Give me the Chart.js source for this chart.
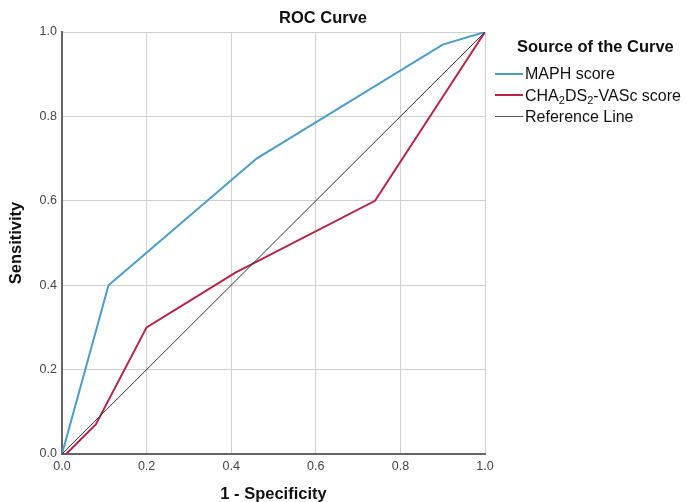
<!DOCTYPE html>
<html>
<head>
<meta charset="utf-8">
<script src="https://cdn.jsdelivr.net/npm/chart.js@4.4.1/dist/chart.umd.min.js"></script>
<style>
  html, body { margin: 0; padding: 0; background: #fff; }
  #wrap { position: relative; width: 691px; height: 502px; overflow: hidden; }
  .txt { font-family: "Liberation Sans", Arial, sans-serif; color: #111; position: absolute; }
  #title { left: 223px; width: 200px; top: 6px; text-align: center; font-weight: bold; font-size: 16.5px; line-height: 22px; }
  #legend { left: 495px; top: 35px; }
  #legend .title { font-weight: bold; font-size: 16.5px; margin-left: 22px; height: 28px; line-height: 22px; white-space: nowrap; }
  #legend .item { font-size: 16px; height: 21.5px; line-height: 21.5px; white-space: nowrap; }
  #legend .swatch { display: inline-block; width: 28px; vertical-align: middle; margin-right: 2px; position: relative; top: -1px; }
  #legend sub { font-size: 11px; vertical-align: -3px; line-height: 0; }
</style>
</head>
<body>
<div id="wrap">
  <canvas id="roc-chart" width="691" height="502"></canvas>
  <div id="title" class="txt">ROC Curve</div>
  <div id="legend" class="txt">
    <div class="title">Source of the Curve</div>
    <div class="item"><span class="swatch" style="border-top:2px solid #4a9ccb"></span>MAPH score</div>
    <div class="item"><span class="swatch" style="border-top:2px solid #b8234a"></span>CHA<sub>2</sub>DS<sub>2</sub>-VASc score</div>
    <div class="item"><span class="swatch" style="border-top:1px solid #555"></span>Reference Line</div>
  </div>
</div>
<script>
// ROC points (x = 1 - specificity, y = sensitivity)
const maphX = [0, 0.11, 0.46, 0.90, 1.0];
const maphY = [0, 0.40, 0.70, 0.97, 1.0];
const chaX = [0, 0.01, 0.08, 0.20, 0.41, 0.74, 1.0];
const chaY = [0, 0, 0.07, 0.30, 0.43, 0.60, 1.0];
const refX = [0, 1];
const refY = [0, 1];
const tickValues = [0, 0.2, 0.4, 0.6, 0.8, 1.0];

const toPoints = (xs, ys) => xs.map((x, i) => ({ x: x, y: ys[i] }));

const font = 'Liberation Sans, Arial, sans-serif';

const ctx = document.getElementById('roc-chart').getContext('2d');
new Chart(ctx, {
    type: 'scatter',
    data: {
        datasets: [
            {
                label: 'Reference Line',
                data: toPoints(refX, refY),
                showLine: true,
                borderColor: '#333333',
                borderWidth: 1,
                pointRadius: 0
            },
            {
                label: 'CHA2DS2-VASc score',
                data: toPoints(chaX, chaY),
                showLine: true,
                borderColor: '#b8234a',
                borderWidth: 2,
                pointRadius: 0
            },
            {
                label: 'MAPH score',
                data: toPoints(maphX, maphY),
                showLine: true,
                borderColor: '#4a9ccb',
                borderWidth: 2,
                pointRadius: 0
            }
        ]
    },
    options: {
        responsive: false,
        animation: false,
        layout: { padding: { left: 0, right: 206, top: 32, bottom: 0 } },
        plugins: {
            legend: { display: false },
            tooltip: { enabled: false },
            title: { display: false }
        },
        scales: {
            x: {
                type: 'linear',
                min: 0,
                max: 1,
                afterBuildTicks: (scale) => { scale.ticks = tickValues.map(v => ({ value: v })); },
                afterFit: (scale) => { scale.height = 48; },
                ticks: {
                    callback: (v) => v.toFixed(1),
                    color: '#444',
                    font: { family: font, size: 12.5 },
                    padding: 5,
                    maxRotation: 0
                },
                grid: { color: '#d0d0d0', lineWidth: 1, drawTicks: false },
                border: { color: '#666', width: 2 },
                title: {
                    display: true,
                    text: '1 - Specificity',
                    color: '#111',
                    font: { family: font, size: 16.5, weight: 'bold' },
                    padding: { top: 0, bottom: -2 }
                }
            },
            y: {
                type: 'linear',
                min: 0,
                max: 1,
                afterBuildTicks: (scale) => { scale.ticks = tickValues.map(v => ({ value: v })); },
                afterFit: (scale) => { scale.width = 62; },
                ticks: {
                    callback: (v) => v.toFixed(1),
                    color: '#444',
                    font: { family: font, size: 12.5 },
                    padding: 5
                },
                grid: { color: '#d0d0d0', lineWidth: 1, drawTicks: false },
                border: { color: '#666', width: 2 },
                title: {
                    display: true,
                    text: 'Sensitivity',
                    color: '#111',
                    font: { family: font, size: 16.5, weight: 'bold' },
                    padding: { top: 7, bottom: 0 }
                }
            }
        }
    }
});
</script>
</body>
</html>
